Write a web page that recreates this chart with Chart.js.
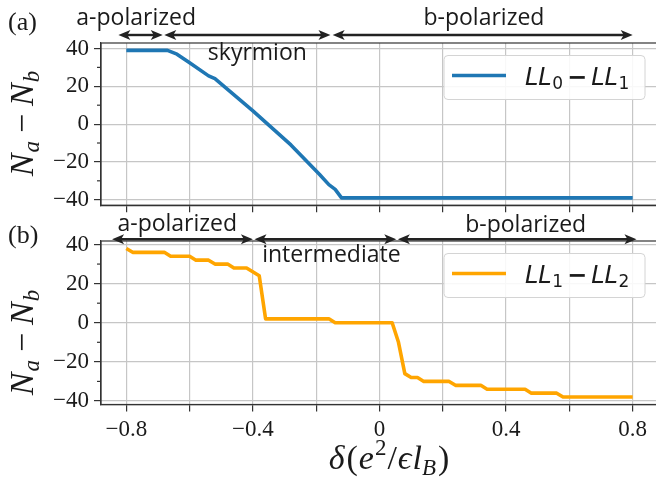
<!DOCTYPE html>
<html>
<head>
<meta charset="utf-8">
<script src="https://cdn.jsdelivr.net/npm/chart.js@4/dist/chart.umd.min.js"></script>
<style>
  html, body { margin: 0; padding: 0; background: #fff; }
  #wrap { position: relative; width: 656px; height: 491px; overflow: hidden; }
  canvas { position: absolute; left: 0; }
  #top { top: 0; }
  #bottom { top: 200px; }
</style>
</head>
<body>
<div id="wrap">
  <canvas id="top" width="660" height="224"></canvas>
  <canvas id="bottom" width="660" height="291"></canvas>
</div>
<script>
// (a) LL0 - LL1: N_a - N_b against delta
var delta01 = [-0.8, -0.67, -0.64, -0.6, -0.54, -0.52, -0.4, -0.28, -0.19, -0.16, -0.14, -0.12, 0.8];
var diff01  = [39, 39, 37, 32.5, 25.5, 24, 7, -11, -26.5, -32, -34.5, -39, -39];

// (b) LL1 - LL2
var delta12 = [-0.8, -0.78, -0.68, -0.66, -0.6, -0.58, -0.54, -0.52, -0.48, -0.46, -0.42, -0.38, -0.36,
               -0.16, -0.14, 0.04, 0.06, 0.08, 0.1, 0.12, 0.14, 0.22, 0.24, 0.32, 0.34, 0.46, 0.48, 0.56, 0.58, 0.8];
var diff12  = [38, 36, 36, 34, 34, 32, 32, 30, 30, 28, 28, 24, 2,
               2, 0, 0, -10, -26, -28, -28, -30, -30, -32, -32, -34, -34, -36, -36, -38, -38];

var xTicks = [-0.8, -0.6, -0.4, -0.2, 0, 0.2, 0.4, 0.6, 0.8];
var xTickLabels = ['\u22120.8', '', '\u22120.4', '', '0', '', '0.4', '', '0.8'];
var yTicks = [-40, -30, -20, -10, 0, 10, 20, 30, 40];
var yTickLabels = ['\u221240', '', '\u221220', '', '0', '', '20', '', '40'];

// phase regions along delta
var phases01 = ['a-polarized', 'skyrmion', 'b-polarized'];
var phaseSpans01 = [[-0.825, -0.685], [-0.68, -0.155], [-0.148, 0.8]];
var phases12 = ['a-polarized', 'intermediate', 'b-polarized'];
var phaseSpans12 = [[-0.845, -0.4], [-0.395, 0.053], [0.058, 0.812]];

var SERIF = "'Liberation Serif', 'DejaVu Serif', serif";
var SANS = "'DejaVu Sans', sans-serif";
var INK = '#1a1a1a';

// draw a run of text pieces: [text, font, dy, gapBefore]
function drawPieces(ctx, pieces, x, y, align) {
  var w = 0;
  pieces.forEach(function (p) { ctx.font = p[1]; w += (p[3] || 0) + ctx.measureText(p[0]).width; });
  var cx = align === 'center' ? x - w / 2 : x;
  pieces.forEach(function (p) {
    ctx.font = p[1];
    cx += p[3] || 0;
    ctx.fillText(p[0], cx, y + (p[2] || 0));
    cx += ctx.measureText(p[0]).width;
  });
}

function arrow(ctx, x1, x2, y) {
  var hl = 12, hw = 5;
  ctx.lineWidth = 2.4;
  ctx.beginPath(); ctx.moveTo(x1 + 8, y); ctx.lineTo(x2 - 8, y); ctx.stroke();
  ctx.beginPath();
  ctx.moveTo(x1, y); ctx.lineTo(x1 + hl, y - hw); ctx.lineTo(x1 + hl * 0.75, y); ctx.lineTo(x1 + hl, y + hw);
  ctx.closePath(); ctx.fill();
  ctx.beginPath();
  ctx.moveTo(x2, y); ctx.lineTo(x2 - hl, y - hw); ctx.lineTo(x2 - hl * 0.75, y); ctx.lineTo(x2 - hl, y + hw);
  ctx.closePath(); ctx.fill();
}

function legendLabel(lo, hi) {
  var it = 'italic 24px ' + SANS, sub = '17px ' + SANS;
  return [['LL', it, 0, 0], [lo, sub, 4, 0.5], ['\u2212', 'bold 24px ' + SANS, 0, 4], ['LL', it, 0, 4], [hi, sub, 4, 0.5]];
}

// frame, minor ticks, legend, phase arrows and axis titles for one panel
function decor(cfg) {
  return {
    id: 'panelDecor',
    afterDraw: function (chart) {
      var ctx = chart.ctx, a = chart.chartArea, xs = chart.scales.x, ys = chart.scales.y;
      ctx.save();

      ctx.strokeStyle = '#333';
      ctx.lineWidth = 1.2;
      [-30, -10, 10, 30].forEach(function (v) {
        var py = ys.getPixelForValue(v);
        ctx.beginPath(); ctx.moveTo(a.left - 4, py); ctx.lineTo(a.left, py); ctx.stroke();
      });
      ctx.strokeRect(a.left, a.top, a.right - a.left, a.bottom - a.top);

      // legend
      var bx = a.right - 214, by = a.top + 12.5;
      ctx.beginPath(); ctx.roundRect(bx, by, 201, 44, 4);
      ctx.fillStyle = 'rgba(255,255,255,0.88)'; ctx.fill();
      ctx.strokeStyle = '#d4d4d4'; ctx.lineWidth = 1; ctx.stroke();
      ctx.strokeStyle = cfg.color; ctx.lineWidth = 3.5;
      ctx.beginPath(); ctx.moveTo(bx + 8, by + 20); ctx.lineTo(bx + 62, by + 20); ctx.stroke();
      ctx.fillStyle = INK; ctx.textAlign = 'left'; ctx.textBaseline = 'alphabetic';
      drawPieces(ctx, cfg.legend, bx + 81, by + 29.5, 'left');

      // phase arrows
      ctx.fillStyle = '#222'; ctx.strokeStyle = '#222';
      cfg.spans.forEach(function (s) {
        arrow(ctx, xs.getPixelForValue(s[0]), xs.getPixelForValue(s[1]), cfg.arrowY);
      });
      ctx.fillStyle = INK; ctx.textAlign = 'center';
      ctx.font = '23px "Open Sans", sans-serif';
      cfg.names.forEach(function (n, i) {
        ctx.fillText(n, xs.getPixelForValue(cfg.nameX[i]), cfg.nameY[i]);
      });

      // panel letter
      ctx.textAlign = 'left';
      ctx.font = '26px ' + SERIF;
      ctx.fillText(cfg.letter, 8, cfg.letterY);

      // y title
      ctx.save();
      ctx.translate(33, cfg.titleY);
      ctx.rotate(-Math.PI / 2);
      var it33 = 'italic 34px ' + SERIF, it23 = 'italic 23px ' + SERIF;
      drawPieces(ctx, [['N', it33], ['a', it23, 6, 1], ['\u2212', '34px ' + SERIF, 0, 8], ['N', it33, 0, 8], ['b', it23, 6, 1]], 0, 0, 'center');
      ctx.restore();

      // x title
      if (cfg.xTitle) {
        var it34 = 'italic 34px ' + SERIF, up34 = '34px ' + SERIF;
        drawPieces(ctx, [['\u03b4', it34], ['(', up34, 0, 2], ['e', it34, 0, 1], ['2', '23px ' + SERIF, -14, 1],
                         ['/', up34, 0, 1], ['\u03f5', it34, 0, 1], ['l', it34, 0, 1], ['B', 'italic 23px ' + SERIF, 6, 0],
                         [')', up34, 0, 2]], 389, cfg.xTitleY, 'center');
      }
      ctx.restore();
    }
  };
}

function panel(id, xs, ys, yMax, padTop, xAxisH, showX, cfg) {
  return new Chart(document.getElementById(id), {
    type: 'line',
    data: {
      datasets: [{
        data: xs.map(function (x, i) { return { x: x, y: ys[i] }; }),
        borderColor: cfg.color,
        borderWidth: 3.6,
        pointRadius: 0,
        tension: 0,
        borderJoinStyle: 'round'
      }]
    },
    options: {
      responsive: false,
      animation: false,
      devicePixelRatio: 1,
      layout: { padding: { top: padTop, right: 2, left: 0, bottom: 0 } },
      plugins: { legend: { display: false }, tooltip: { enabled: false } },
      scales: {
        x: {
          type: 'linear', min: -0.88, max: 0.88,
          afterBuildTicks: function (s) { s.ticks = xTicks.map(function (v) { return { value: v }; }); },
          afterFit: function (s) { s.height = xAxisH; },
          ticks: {
            display: showX, autoSkip: false, maxRotation: 0, padding: 5, color: INK,
            font: { family: SERIF, size: 23 },
            callback: function (v, i) { return xTickLabels[i]; }
          },
          grid: { color: '#c6c6c6', lineWidth: 1.2, tickLength: 7, tickColor: '#333', tickWidth: 1.2 },
          border: { color: '#333', width: 1.2 }
        },
        y: {
          min: -yMax, max: yMax,
          afterBuildTicks: function (s) { s.ticks = yTicks.map(function (v) { return { value: v }; }); },
          afterFit: function (s) { s.width = 101; },
          ticks: {
            padding: 5, color: INK,
            font: { family: SERIF, size: 23 },
            callback: function (v, i) { return yTickLabels[i]; }
          },
          grid: {
            color: '#c6c6c6', lineWidth: 1.2, tickLength: 7, tickWidth: 1.2,
            tickColor: function (c) { return c.tick && c.tick.value % 20 === 0 ? '#333' : 'rgba(0,0,0,0)'; }
          },
          border: { color: '#333', width: 1.2 }
        }
      }
    },
    plugins: [decor(cfg)]
  });
}

panel('top', delta01, diff01, 42.9, 43, 16, false, {
  color: '#1f77b4',
  legend: legendLabel('0', '1'),
  names: phases01, spans: phaseSpans01,
  nameX: [-0.769, -0.386, 0.33], nameY: [25, 60, 25], arrowY: 35,
  letter: '(a)', letterY: 30, titleY: 123.5
});

panel('bottom', delta12, diff12, 41.8, 41, 86.5, true, {
  color: '#ffa500',
  legend: legendLabel('1', '2'),
  names: phases12, spans: phaseSpans12,
  nameX: [-0.639, -0.152, 0.462], nameY: [30.7, 62, 31.5], arrowY: 39.3,
  letter: '(b)', letterY: 43, titleY: 142.5,
  xTitle: true, xTitleY: 269
});
</script>
</body>
</html>
